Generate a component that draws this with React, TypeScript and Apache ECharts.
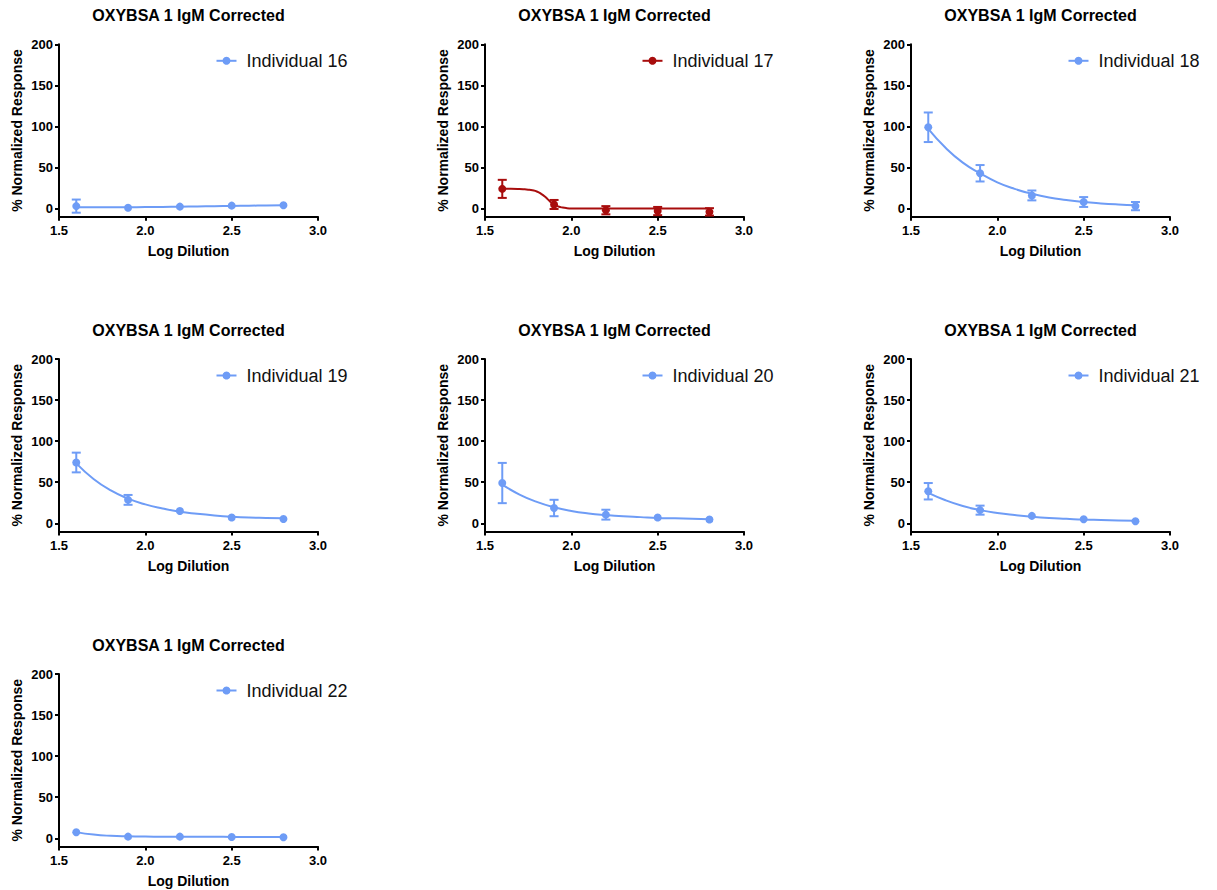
import React, { useEffect, useRef } from "react";
import * as echarts from "echarts";

// ---- data ----
const titleText = "OXYBSA 1 IgM Corrected";
const xAxisName = "Log Dilution";
const yAxisName = "% Normalized Response";
const yTicks = [0, 50, 100, 150, 200];

const logDilution = [1.6, 1.9, 2.2, 2.5, 2.8];

const names = [
  "Individual 16",
  "Individual 17",
  "Individual 18",
  "Individual 19",
  "Individual 20",
  "Individual 21",
  "Individual 22",
];

const mean16 = [3, 1, 2.4, 3.6, 4];
const err16 = [8, 0, 0, 0, 0];
const mean17 = [24, 5, -2, -3, -4];
const err17 = [11, 5.5, 5, 5, 4.5];
const mean18 = [99, 43, 16, 8, 3];
const err18 = [18, 10, 6, 6, 5];
const mean19 = [74, 28.5, 15, 7, 5.3];
const err19 = [12, 6, 0, 0, 0];
const mean20 = [49, 18.6, 10.5, 7, 4.7];
const err20 = [24.5, 10, 6, 0, 0];
const mean21 = [39, 16, 9, 5, 2.5];
const err21 = [10, 5.5, 0, 0, 0];
const mean22 = [7.4, 2, 2, 1.6, 1.2];
const err22 = [0, 0, 0, 0, 0];

// fitted curves
const curveX = [1.6, 1.7, 1.8, 1.9, 2.0, 2.1, 2.2, 2.3, 2.4, 2.5, 2.6, 2.7, 2.8];
const curve16 = [1.5, 1.5, 1.5, 1.6, 1.8, 2.0, 2.3, 2.6, 2.9, 3.2, 3.5, 3.8, 4];
const curve18 = [97, 74, 56, 43, 32, 24, 18, 13.5, 10.5, 8, 6.3, 5, 4];
const curve19 = [73, 54, 40, 30, 23, 18, 14, 11.5, 9.5, 8, 7, 6.5, 6];
const curve20 = [47, 35, 26, 19.5, 15, 12, 10, 8.5, 7.5, 6.5, 6, 5.5, 5];
const curve21 = [37, 28, 21, 16, 12.5, 10, 8, 6.5, 5.5, 4.5, 4, 3.5, 3];
const curve22 = [7.5, 4.5, 3, 2.4, 2.1, 2, 2, 1.9, 1.8, 1.7, 1.6, 1.5, 1.5];
const curveX17 = [1.6, 1.65, 1.7, 1.725, 1.75, 1.775, 1.8, 1.825, 1.85, 1.875, 1.9, 1.925, 1.95, 1.975, 2.0, 2.1, 2.2, 2.5, 2.8];
const curve17 = [24, 24, 23.8, 23.5, 23, 22.2, 20.8, 18, 14, 9, 5, 2.5, 1.2, 0.5, 0.2, 0, 0, 0, 0];

const means = [mean16, mean17, mean18, mean19, mean20, mean21, mean22];
const errs = [err16, err17, err18, err19, err20, err21, err22];
const curveXs = [curveX, curveX17, curveX, curveX, curveX, curveX, curveX];
const curves = [curve16, curve17, curve18, curve19, curve20, curve21, curve22];

// ---- layout / style ----
const BLUE = "#6e9cf6";
const RED = "#a80d0d";
const colors = [BLUE, RED, BLUE, BLUE, BLUE, BLUE, BLUE];
const colLeft = [59, 485, 911];
const rowTop = [44.3, 359, 674];
const titleY = [15, 330, 645];
const GW = 259;
const GH = 172.5;
const FONT = "'Liberation Sans', Arial, Helvetica, sans-serif";

function buildOption() {
  const grid: any[] = [];
  const xAxis: any[] = [];
  const yAxis: any[] = [];
  const legend: any[] = [];
  const series: any[] = [];
  const graphic: any[] = [];

  names.forEach((name, i) => {
    const col = i % 3;
    const row = Math.floor(i / 3);
    const left = colLeft[col];
    const top = rowTop[row];
    const color = colors[i];
    grid.push({ left, top, width: GW, height: GH, containLabel: false });
    xAxis.push({
      type: "value",
      gridIndex: i,
      min: 1.5,
      max: 3.0,
      interval: 0.5,
      name: xAxisName,
      nameLocation: "middle",
      nameGap: 27,
      nameTextStyle: { fontFamily: FONT, fontWeight: "bold", fontSize: 14, color: "#000" },
      axisLine: { onZero: false, lineStyle: { color: "#000", width: 2 } },
      axisTick: { length: 4, lineStyle: { color: "#000", width: 2 } },
      axisLabel: {
        margin: 7,
        fontFamily: FONT,
        fontWeight: "bold",
        fontSize: 13,
        color: "#000",
        formatter: (v: number) => v.toFixed(1),
      },
      splitLine: { show: false },
    });
    yAxis.push({
      type: "value",
      gridIndex: i,
      min: -10,
      max: 200,
      name: yAxisName,
      nameLocation: "middle",
      nameGap: 35,
      nameTextStyle: { fontFamily: FONT, fontWeight: "bold", fontSize: 14, color: "#000" },
      axisLine: { show: true, onZero: false, lineStyle: { color: "#000", width: 2 } },
      axisTick: { show: true, length: 4, customValues: yTicks, lineStyle: { color: "#000", width: 2 } },
      axisLabel: {
        margin: 6,
        customValues: yTicks,
        fontFamily: FONT,
        fontWeight: "bold",
        fontSize: 13,
        color: "#000",
      },
      splitLine: { show: false },
    });
    legend.push({
      data: [name],
      left: left + 156.5,
      top: top + 7.5,
      padding: 0,
      itemWidth: 20,
      itemHeight: 10,
      textStyle: { fontFamily: FONT, fontSize: 18, color: "#111", padding: [0, 0, 0, 5] },
    });
    graphic.push({
      type: "text",
      x: left + GW / 2,
      y: titleY[row],
      style: {
        text: titleText,
        textAlign: "center",
        textVerticalAlign: "middle",
        font: `bold 16px ${FONT}`,
        fill: "#000",
      },
    });
    // fitted curve
    series.push({
      type: "line",
      name,
      xAxisIndex: i,
      yAxisIndex: i,
      data: curveXs[i].map((x, k) => [x, curves[i][k]]),
      smooth: 0.5,
      symbol: "circle",
      showSymbol: false,
      symbolSize: 8,
      lineStyle: { color, width: 2 },
      itemStyle: { color },
      z: 2,
    });
    // error bars
    series.push({
      type: "custom",
      name: name + " error",
      xAxisIndex: i,
      yAxisIndex: i,
      data: logDilution.map((x, k) => [x, means[i][k] - errs[i][k], means[i][k] + errs[i][k], errs[i][k]]),
      renderItem: (params: any, api: any) => {
        if (api.value(3) === 0) return null;
        const x = api.value(0);
        const lo = api.coord([x, api.value(1)]);
        const hi = api.coord([x, api.value(2)]);
        const hw = 4.5;
        const style = { stroke: color, lineWidth: 2, fill: "none" };
        return {
          type: "group",
          children: [
            { type: "line", shape: { x1: lo[0], y1: lo[1], x2: hi[0], y2: hi[1] }, style },
            { type: "line", shape: { x1: lo[0] - hw, y1: lo[1], x2: lo[0] + hw, y2: lo[1] }, style },
            { type: "line", shape: { x1: hi[0] - hw, y1: hi[1], x2: hi[0] + hw, y2: hi[1] }, style },
          ],
        };
      },
      z: 3,
    });
    // points
    series.push({
      type: "scatter",
      name: name + " points",
      xAxisIndex: i,
      yAxisIndex: i,
      data: logDilution.map((x, k) => [x, means[i][k]]),
      symbol: "circle",
      symbolSize: 8,
      itemStyle: { color, opacity: 1 },
      z: 4,
    });
  });

  return {
    animation: false,
    backgroundColor: "#fff",
    grid,
    xAxis,
    yAxis,
    legend,
    series,
    graphic,
  };
}

export default function App() {
  const ref = useRef<HTMLDivElement>(null);
  useEffect(() => {
    if (!ref.current) return;
    const chart = echarts.init(ref.current, null, { renderer: "svg" });
    chart.setOption(buildOption() as any);
    return () => chart.dispose();
  }, []);
  return (
    <div
      ref={ref}
      style={{ position: "absolute", left: 0, top: 0, width: 1217, height: 890, background: "#fff" }}
    />
  );
}
